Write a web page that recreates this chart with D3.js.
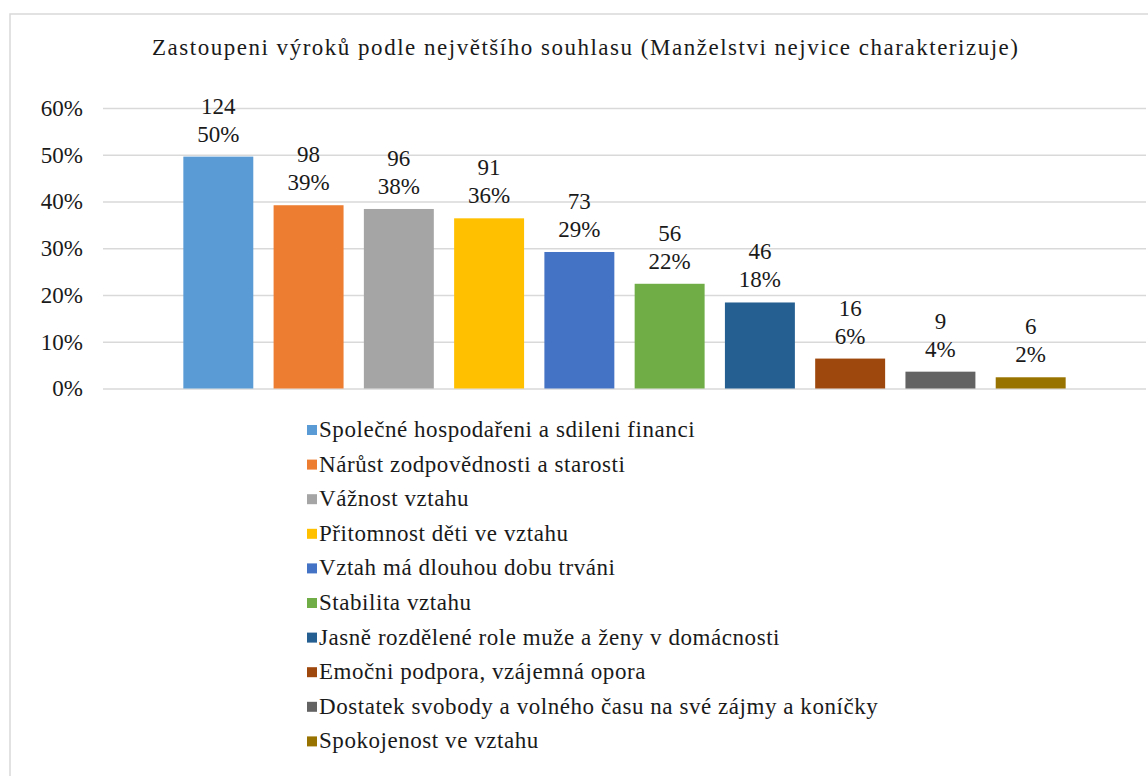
<!DOCTYPE html>
<html>
<head>
<meta charset="utf-8">
<script src="https://cdn.jsdelivr.net/npm/d3@7"></script>
</head>
<body style="margin:0">
<svg id="chart" width="1148" height="776" style="display:block"></svg>
<script>
// ---- data ----
const title = "Zastoupeni výroků podle největšího souhlasu (Manželstvi nejvice charakterizuje)";
const categories = [
  "Společné hospodařeni a sdileni financi",
  "Nárůst zodpovědnosti a starosti",
  "Vážnost vztahu",
  "Přitomnost děti ve vztahu",
  "Vztah má dlouhou dobu trváni",
  "Stabilita vztahu",
  "Jasně rozdělené role muže a ženy v domácnosti",
  "Emočni podpora, vzájemná opora",
  "Dostatek svobody a volného času na své zájmy a koníčky",
  "Spokojenost ve vztahu"
];
const counts = [124, 98, 96, 91, 73, 56, 46, 16, 9, 6];
const shares = [0.496, 0.392, 0.384, 0.364, 0.292, 0.224, 0.184, 0.064, 0.036, 0.024];
const shareLabels = ["50%", "39%", "38%", "36%", "29%", "22%", "18%", "6%", "4%", "2%"];
const yTicks = [0, 0.1, 0.2, 0.3, 0.4, 0.5, 0.6];
const colors = ["#5B9BD5", "#ED7D31", "#A5A5A5", "#FFC000", "#4472C4",
                "#70AD47", "#255E91", "#9E480E", "#636363", "#997300"];

// ---- layout ----
const FONT = '"Liberation Serif"';
const K = 1.15;            // text is set at 20px and scaled to ~23px
const INK = "#1a1a1a";
const svg = d3.select("#chart");
const W = 1148, H = 776;
const plot = { left: 103, right: 1146, top: 108, bottom: 388.5 };

function txt(sel) {
  return sel.attr("fill", INK).style("font-family", FONT).style("font-size", "20px");
}

svg.append("rect")
  .attr("x", 10).attr("y", 14)
  .attr("width", W + 20).attr("height", H + 20)
  .attr("fill", "#fff").attr("stroke", "#d9d9d9").attr("stroke-width", 1.5);

svg.append("text")
  .attr("transform", `translate(585,55) scale(${K})`)
  .attr("text-anchor", "middle")
  .call(txt)
  .attr("textLength", 866 / K)
  .attr("lengthAdjust", "spacing")
  .text(title);

const x = d3.scaleBand()
  .domain(d3.range(categories.length))
  .range([plot.left, plot.right])
  .paddingInner(0.225)
  .paddingOuter(0.89);

const y = d3.scaleLinear()
  .domain([0, 0.6])
  .range([plot.bottom, plot.top]);

const gy = svg.append("g")
  .attr("transform", `translate(${plot.left},0)`)
  .call(d3.axisLeft(y).tickValues(yTicks).tickFormat(d3.format(".0%"))
        .tickSize(-(plot.right - plot.left)).tickPadding(20))
  .attr("font-family", null)
  .attr("font-size", null);
gy.select(".domain").remove();
gy.selectAll(".tick line").attr("stroke", "#d9d9d9").attr("stroke-width", 1.5);
gy.selectAll(".tick text")
  .call(txt)
  .attr("x", -20 / K)
  .attr("transform", `scale(${K})`);

svg.append("g").selectAll("rect")
  .data(shares)
  .join("rect")
  .attr("x", (d, i) => x(i))
  .attr("y", d => y(d))
  .attr("width", x.bandwidth())
  .attr("height", d => y(0) - y(d))
  .attr("fill", (d, i) => colors[i]);

const lab = svg.append("g").selectAll("g")
  .data(shares)
  .join("g")
  .attr("transform", (d, i) => `translate(${x(i) + x.bandwidth() / 2},${y(d)})`);
lab.append("text")
  .attr("text-anchor", "middle")
  .attr("transform", `translate(0,-43) scale(${K})`)
  .call(txt)
  .text((d, i) => counts[i]);
lab.append("text")
  .attr("text-anchor", "middle")
  .attr("transform", `translate(0,-15) scale(${K})`)
  .call(txt)
  .text((d, i) => shareLabels[i]);

const leg = svg.append("g").selectAll("g")
  .data(categories)
  .join("g")
  .attr("transform", (d, i) => `translate(307,${437 + i * 34.6})`);
leg.append("rect")
  .attr("x", 0).attr("y", -12)
  .attr("width", 10).attr("height", 10)
  .attr("fill", (d, i) => colors[i]);
leg.append("text")
  .attr("transform", `translate(12,0) scale(${K})`)
  .call(txt)
  .style("letter-spacing", "0.48px")
  .text(d => d);
</script>
</body>
</html>
